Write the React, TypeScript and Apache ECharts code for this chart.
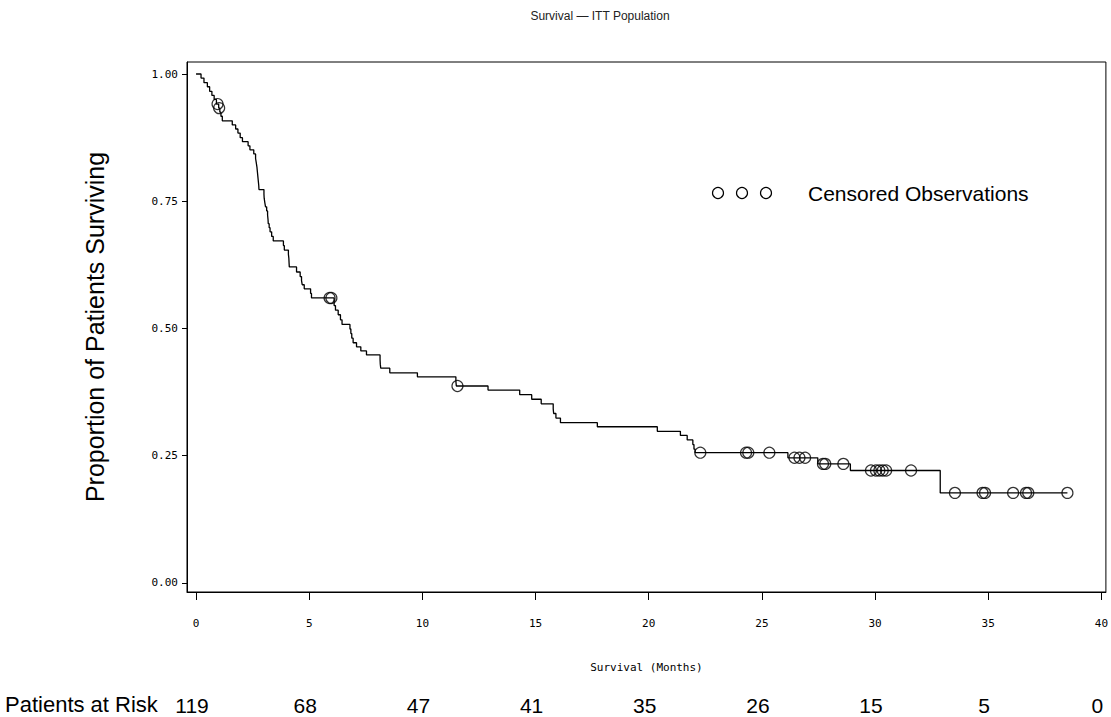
import React, { useEffect, useRef } from "react";
import * as echarts from "echarts";

// Kaplan-Meier step points (time in months, survival proportion after the event)
const kmTimes = [
  0, 0.22, 0.35, 0.5, 0.6, 0.7, 0.8, 0.9, 1.0, 1.05, 1.1, 1.16, 1.6, 1.75, 1.85, 1.95, 2.05,
  2.3, 2.38, 2.55, 2.63, 2.66, 2.69, 2.71, 2.73, 2.75, 2.77, 2.78, 3.0, 3.01, 3.04, 3.07,
  3.12, 3.16, 3.18, 3.19, 3.23, 3.27, 3.34, 3.41, 3.86, 3.9, 4.08, 4.1, 4.11, 4.12, 4.44,
  4.6, 4.66, 4.69, 4.78, 5.06, 5.1, 6.1, 6.16, 6.28, 6.38, 6.45, 6.8, 6.84, 6.88, 6.94,
  7.09, 7.28, 7.53, 8.13, 8.14, 8.16, 8.56, 9.78, 11.48, 11.5, 12.9, 14.3, 14.83, 15.25,
  15.78, 15.8, 15.9, 16.1, 17.73, 20.38, 21.4, 21.7, 21.95, 22.0, 22.05, 26.15, 27.47,
  28.91, 32.88, 38.5,
];
const kmSurvival = [
  1.0, 0.992, 0.983, 0.975, 0.966, 0.958, 0.95, 0.941, 0.933, 0.925, 0.917, 0.908, 0.9,
  0.892, 0.884, 0.875, 0.867, 0.859, 0.851, 0.843, 0.834, 0.826, 0.817, 0.808, 0.799, 0.79,
  0.781, 0.773, 0.764, 0.756, 0.747, 0.739, 0.731, 0.723, 0.714, 0.706, 0.698, 0.69, 0.681,
  0.672, 0.663, 0.654, 0.646, 0.638, 0.629, 0.621, 0.611, 0.602, 0.594, 0.586, 0.578, 0.569,
  0.56, 0.545, 0.536, 0.527, 0.517, 0.508, 0.499, 0.49, 0.481, 0.472, 0.464, 0.456, 0.448,
  0.439, 0.43, 0.422, 0.413, 0.405, 0.396, 0.387, 0.379, 0.37, 0.361, 0.352, 0.342, 0.333,
  0.324, 0.315, 0.307, 0.298, 0.29, 0.281, 0.272, 0.263, 0.256, 0.246, 0.234, 0.221, 0.177,
  0.177,
];

// Censored observations
const censorTimes = [
  0.95, 1.02, 5.9, 5.98, 11.55, 22.28, 24.3, 24.4, 25.33, 26.44, 26.66, 26.91, 27.7, 27.8,
  28.6, 29.82, 30.04, 30.19, 30.34, 30.49, 31.59, 33.53, 34.75, 34.86, 36.1, 36.67, 36.77,
  38.5,
];
const censorSurvival = [
  0.941, 0.933, 0.56, 0.56, 0.387, 0.256, 0.256, 0.256, 0.256, 0.246, 0.246, 0.246, 0.234,
  0.234, 0.234, 0.221, 0.221, 0.221, 0.221, 0.221, 0.221, 0.177, 0.177, 0.177, 0.177, 0.177,
  0.177, 0.177,
];

const xTicks = [0, 5, 10, 15, 20, 25, 30, 35, 40];
const yTicks = [0, 0.25, 0.5, 0.75, 1.0];
const atRiskTimes = [0, 5, 10, 15, 20, 25, 30, 35, 40];
const atRiskCounts = [119, 68, 47, 41, 35, 26, 15, 5, 0];

const MONO = "'DejaVu Sans Mono', 'Liberation Mono', monospace";
const SANS = "'Liberation Sans', Arial, Helvetica, sans-serif";
const NARROW = "'Liberation Sans Narrow', 'Arial Narrow', 'Liberation Sans', Arial, sans-serif";

export default function App() {
  const ref = useRef<HTMLDivElement>(null);

  useEffect(() => {
    document.body.style.margin = "0";
    if (!ref.current) return;
    const chart = echarts.init(ref.current, undefined, { renderer: "svg" });

    const lineData = kmTimes.map((t, i) => [t, kmSurvival[i]]);
    const censorData = censorTimes.map((t, i) => [t, censorSurvival[i]]);

    chart.setOption({
      animation: false,
      backgroundColor: "#fff",
      grid: {
        left: 187,
        top: 62,
        width: 920,
        height: 530,
        show: true,
        borderColor: "#000",
        borderWidth: 1,
        backgroundColor: "transparent",
      },
      xAxis: [
        {
          type: "value",
          min: -0.4,
          max: 40.2,
          position: "bottom",
          axisLine: { show: true, onZero: false, lineStyle: { color: "#000", width: 1 } },
          axisTick: {
            show: true,
            customValues: xTicks,
            length: 8,
            lineStyle: { color: "#000", width: 1 },
          },
          axisLabel: {
            customValues: xTicks,
            margin: 26,
            fontFamily: MONO,
            fontSize: 11,
            color: "#000",
          },
          splitLine: { show: false },
          name: "Survival (Months)",
          nameLocation: "middle",
          nameGap: 70,
          nameTextStyle: { fontFamily: MONO, fontSize: 11, color: "#000" },
        },
        {
          type: "value",
          min: -0.4,
          max: 40.2,
          position: "bottom",
          offset: 100,
          axisLine: { show: false, onZero: false },
          axisTick: { show: false },
          axisLabel: {
            customValues: atRiskTimes,
            margin: 3,
            fontFamily: NARROW,
            fontSize: 21,
            color: "#000",
            padding: [0, 8, 0, 0],
            formatter: (v: number) => {
              const idx = atRiskTimes.indexOf(v);
              return idx >= 0 ? String(atRiskCounts[idx]) : "";
            },
          },
          splitLine: { show: false },
        },
      ],
      yAxis: {
        type: "value",
        min: -0.0177,
        max: 1.0236,
        axisLine: { show: true, onZero: false, lineStyle: { color: "#000", width: 1 } },
        axisTick: {
          show: true,
          customValues: yTicks,
          length: 5,
          lineStyle: { color: "#000", width: 1 },
        },
        axisLabel: {
          customValues: yTicks,
          margin: 9,
          fontFamily: MONO,
          fontSize: 11,
          color: "#000",
          formatter: (v: number) => v.toFixed(2),
        },
        splitLine: { show: false },
        name: "Proportion of Patients Surviving",
        nameLocation: "middle",
        nameGap: 80,
        nameTextStyle: { fontFamily: SANS, fontSize: 25, color: "#000" },
      },
      graphic: [
        {
          type: "text",
          x: 600,
          y: 16,
          style: {
            text: "Survival \u2014 ITT Population",
            fontFamily: SANS,
            fontSize: 12,
            fill: "#222",
            align: "center",
            verticalAlign: "middle",
          },
        },
        { type: "circle", shape: { cx: 718, cy: 193, r: 5.5 }, style: { fill: "none", stroke: "#000", lineWidth: 1.2 } },
        { type: "circle", shape: { cx: 742, cy: 193, r: 5.5 }, style: { fill: "none", stroke: "#000", lineWidth: 1.2 } },
        { type: "circle", shape: { cx: 766, cy: 193, r: 5.5 }, style: { fill: "none", stroke: "#000", lineWidth: 1.2 } },
        {
          type: "text",
          x: 808,
          y: 193,
          style: {
            text: "Censored Observations",
            fontFamily: SANS,
            fontSize: 21,
            fill: "#000",
            align: "left",
            verticalAlign: "middle",
          },
        },
        {
          type: "text",
          x: 5,
          y: 704,
          style: {
            text: "Patients at Risk",
            fontFamily: SANS,
            fontSize: 22,
            fill: "#000",
            align: "left",
            verticalAlign: "middle",
          },
        },
      ],
      series: [
        {
          type: "line",
          name: "Survival",
          data: lineData,
          step: "end",
          showSymbol: false,
          symbol: "none",
          lineStyle: { color: "#000", width: 1.3 },
          xAxisIndex: 0,
          yAxisIndex: 0,
          z: 2,
        },
        {
          type: "scatter",
          name: "Censored Observations",
          data: censorData,
          symbol: "circle",
          symbolSize: 11,
          itemStyle: { color: "rgba(0,0,0,0)", borderColor: "#000", borderWidth: 1.2 },
          xAxisIndex: 0,
          yAxisIndex: 0,
          z: 3,
        },
      ],
    });

    return () => chart.dispose();
  }, []);

  return <div ref={ref} style={{ width: 1111, height: 717 }} />;
}
